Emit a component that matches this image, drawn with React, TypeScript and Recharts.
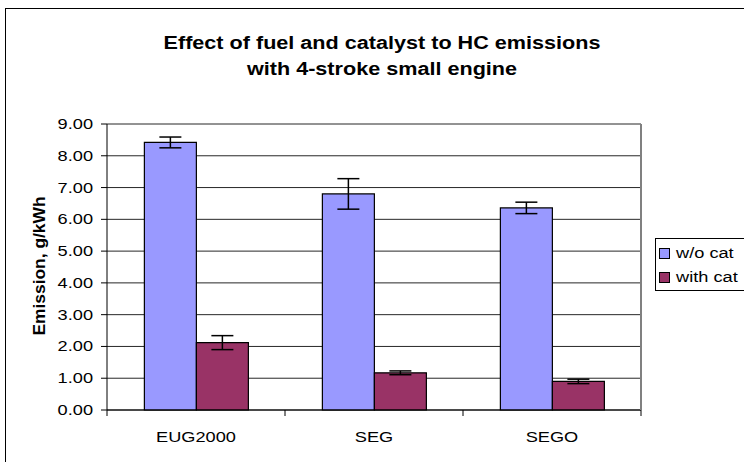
import React from 'react';
import { BarChart, Bar, XAxis, YAxis, CartesianGrid, Legend, ErrorBar } from 'recharts';

const fuels = ['EUG2000', 'SEG', 'SEGO'];
const withoutCat = [8.42, 6.8, 6.36];
const withoutCatErr = [0.17, 0.48, 0.18];
const withCat = [2.12, 1.17, 0.9];
const withCatErr = [0.22, 0.06, 0.07];
const yTicks = [0, 1, 2, 3, 4, 5, 6, 7, 8, 9];

const data = fuels.map((f, i) => ({
  fuel: f,
  wo: withoutCat[i],
  woErr: withoutCatErr[i],
  w: withCat[i],
  wErr: withCatErr[i],
}));

const FONT = '"Liberation Sans", Arial, sans-serif';
const STRETCH = 1.3; // the original picture is wider than tall
const W = 744;
const H = 462;
const LEGEND_W = 100;
const margin = { top: 124, right: 1, bottom: 22, left: 47 };
const Y_AXIS_W = 60;
const RIGHT_AXIS_W = 2;
const plotW = W - margin.left - Y_AXIS_W - margin.right - RIGHT_AXIS_W - LEGEND_W;
const band = plotW / fuels.length;

const FuelTick = (props: any) => {
  const { x, y, payload, index } = props;
  const left = x - band / 2;
  return (
    <g>
      <line x1={left} y1={y} x2={left} y2={y + 6} stroke="#000" />
      {index === fuels.length - 1 && (
        <line x1={x + band / 2} y1={y} x2={x + band / 2} y2={y + 6} stroke="#000" />
      )}
      <text
        transform={`translate(${x},${y + 32}) scale(${STRETCH},1)`}
        textAnchor="middle"
        fontSize={14}
        fill="#000"
        fontFamily={FONT}
      >
        {payload.value}
      </text>
    </g>
  );
};

const ValueTick = (props: any) => {
  const { x, y, payload } = props;
  return (
    <text
      transform={`translate(${x},${y}) scale(${STRETCH},1)`}
      textAnchor="end"
      dy="0.36em"
      fontSize={14}
      fill="#000"
      fontFamily={FONT}
    >
      {Number(payload.value).toFixed(2)}
    </text>
  );
};

const LegendBox = () => (
  <div
    style={{
      border: '1px solid #000',
      background: '#fff',
      width: LEGEND_W,
      height: 53,
      boxSizing: 'border-box',
      padding: '2px 0 0 3px',
      fontFamily: FONT,
      fontSize: 14,
      color: '#000',
      lineHeight: '24px',
    }}
  >
    {[
      { label: 'w/o cat', color: '#9999FF' },
      { label: 'with cat', color: '#993366' },
    ].map((it) => (
      <div key={it.label} style={{ display: 'flex', alignItems: 'center', height: 24 }}>
        <span
          style={{
            display: 'inline-block',
            width: 9,
            height: 9,
            background: it.color,
            border: '1px solid #000',
            marginRight: 6,
          }}
        />
        <span style={{ display: 'inline-block', transform: `scaleX(${STRETCH})`, transformOrigin: '0 50%' }}>
          {it.label}
        </span>
      </div>
    ))}
  </div>
);

export default function App() {
  return (
    <div style={{ position: 'absolute', left: 0, top: 0, width: W, height: H, overflow: 'hidden', background: '#fff' }}>
      <div
        style={{
          position: 'absolute',
          left: 5,
          top: 8,
          width: 800,
          height: 500,
          border: '1px solid #000',
        }}
      />
      <div
        style={{
          position: 'absolute',
          left: 0,
          width: 764,
          top: 30,
          textAlign: 'center',
          fontFamily: FONT,
          fontWeight: 'bold',
          fontSize: 18,
          lineHeight: '26px',
          color: '#000',
          transform: 'scaleX(1.2)',
          transformOrigin: '382px 0',
        }}
      >
        Effect of fuel and catalyst to HC emissions
        <br />
        with 4-stroke small engine
      </div>
      <div style={{ position: 'absolute', left: 0, top: 0 }}>
        <BarChart width={W} height={H} data={data} margin={margin} barGap={0} barCategoryGap="21%">
          <CartesianGrid vertical={false} stroke="#000" strokeOpacity={0.85} yAxisId="left" />
          <XAxis
            dataKey="fuel"
            axisLine={{ stroke: '#000' }}
            tickLine={false}
            tickSize={0}
            tickMargin={0}
            height={30}
            tick={<FuelTick />}
            interval={0}
          />
          <YAxis
            yAxisId="left"
            domain={[0, 9]}
            ticks={yTicks}
            width={Y_AXIS_W}
            axisLine={{ stroke: '#000' }}
            tickLine={{ stroke: '#000' }}
            tickSize={6}
            tickMargin={8}
            tick={<ValueTick />}
            label={{
              content: () => (
                <text
                  x={39}
                  y={266}
                  transform="rotate(-90 39 266)"
                  textAnchor="middle"
                  dominantBaseline="central"
                  fontSize={16}
                  fontWeight="bold"
                  fontFamily={FONT}
                  fill="#000"
                  textLength={139}
                  lengthAdjust="spacingAndGlyphs"
                >
                  Emission, g/kWh
                </text>
              ),
            }}
          />
          <YAxis
            yAxisId="right"
            orientation="right"
            domain={[0, 9]}
            width={RIGHT_AXIS_W}
            tick={false}
            tickLine={false}
            axisLine={{ stroke: '#808080', strokeWidth: 2 }}
          />
          <Legend
            layout="vertical"
            align="right"
            verticalAlign="top"
            content={<LegendBox />}
            wrapperStyle={{ left: 655, top: 238, width: LEGEND_W }}
          />
          <Bar yAxisId="left" dataKey="wo" name="w/o cat" fill="#9999FF" stroke="#000" strokeWidth={1.2} isAnimationActive={false}>
            <ErrorBar dataKey="woErr" width={11} stroke="#000" strokeWidth={1.5} />
          </Bar>
          <Bar yAxisId="left" dataKey="w" name="with cat" fill="#993366" stroke="#000" strokeWidth={1.2} isAnimationActive={false}>
            <ErrorBar dataKey="wErr" width={11} stroke="#000" strokeWidth={1.5} />
          </Bar>
        </BarChart>
      </div>
    </div>
  );
}
